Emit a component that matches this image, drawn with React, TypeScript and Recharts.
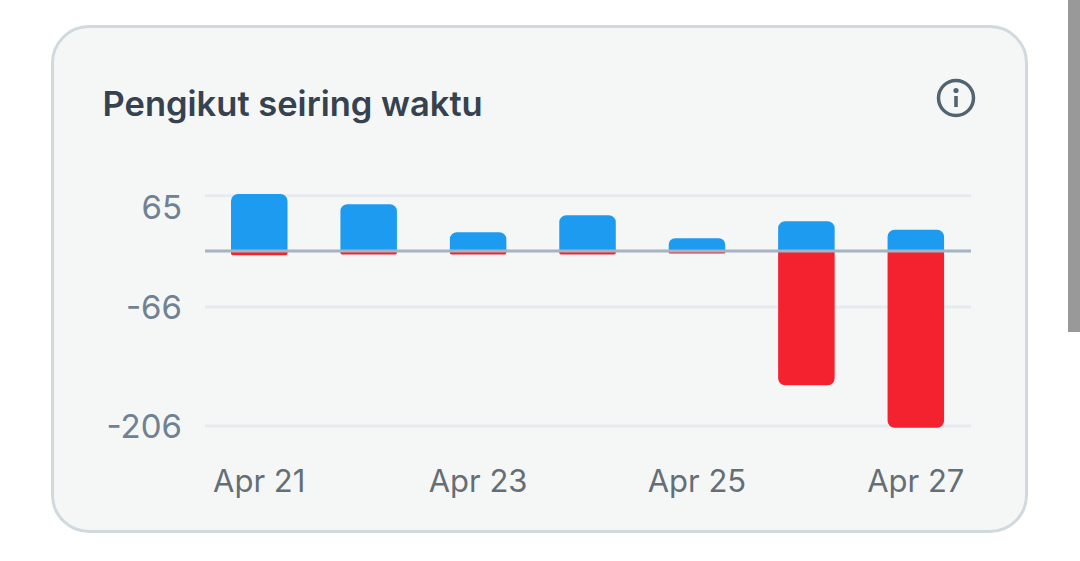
import { BarChart, Bar, XAxis, YAxis, CartesianGrid, ReferenceLine } from 'recharts'

const days = ['Apr 21', 'Apr 22', 'Apr 23', 'Apr 24', 'Apr 25', 'Apr 26', 'Apr 27']
const gained = [67, 55, 22, 42, 15, 35, 25]
const lost = [-5, -4, -4, -4, -3, -158, -208]
const yTicks = [65, -66, -206]

const data = days.map((day, i) => ({ day, gained: gained[i], lost: lost[i] }))

const font = 'Inter, "Noto Sans", sans-serif'

// the top label sits below its gridline, the others are centred on theirs
function YTick({ x, y, payload }: any) {
  const shift = payload.value === yTicks[0] ? 11 : 0
  return (
    <text x={x + 7} y={y + shift} dy={12} textAnchor="end" fontSize={33} fill="#6f8192" fontFamily={font}>
      {payload.value}
    </text>
  )
}

export default function App() {
  return (
    <div style={{ position: 'absolute', left: 0, top: 0, width: 1080, height: 561, background: '#fff', overflow: 'hidden' }}>
      <div
        style={{
          position: 'absolute',
          left: 51,
          top: 25,
          width: 977,
          height: 508,
          boxSizing: 'border-box',
          background: '#f5f7f7',
          border: '3px solid #cfd9de',
          borderRadius: 38,
        }}
      />
      <div
        style={{
          position: 'absolute',
          left: 102.5,
          top: 82.5,
          fontFamily: font,
          fontSize: 34.5,
          lineHeight: '42px',
          fontWeight: 600,
          color: '#36424f',
          whiteSpace: 'nowrap',
        }}
      >
        Pengikut seiring waktu
      </div>
      <svg style={{ position: 'absolute', left: 934, top: 76 }} width={44} height={44} viewBox="0 0 44 44">
        <circle cx={22} cy={22} r={17.5} fill="none" stroke="#536471" strokeWidth={3.5} />
        <circle cx={22} cy={14.5} r={2.6} fill="#536471" />
        <rect x={20.2} y={20} width={3.6} height={11} fill="#536471" />
      </svg>
      <div style={{ position: 'absolute', left: 1068, top: 0, width: 12, height: 332, background: '#999' }} />
      <div style={{ position: 'absolute', left: 0, top: 0 }}>
        <BarChart
          width={1080}
          height={561}
          data={data}
          stackOffset="sign"
          barSize={56.5}
          margin={{ top: 191.5, right: 109, bottom: 71.5, left: 55 }}
        >
          <CartesianGrid horizontal vertical={false} syncWithTicks horizontalValues={yTicks} stroke="#e6ebf0" strokeWidth={3} />
          <XAxis
            dataKey="day"
            interval={1}
            axisLine={false}
            tickLine={false}
            height={60}
            tickMargin={34}
            tick={{ fontSize: 31, fill: '#666e75', fontFamily: font, dx: -0.5 }}
          />
          <YAxis
            width={150}
            type="number"
            domain={[-210, 70]}
            ticks={yTicks}
            interval={0}
            axisLine={false}
            tickLine={false}
            tickMargin={24}
            tick={<YTick />}
          />
          <Bar dataKey="gained" stackId="a" fill="#1d9bf0" radius={[7, 7, 0, 0]} isAnimationActive={false} />
          <Bar dataKey="lost" stackId="a" fill="#f4212e" radius={[7, 7, 0, 0]} isAnimationActive={false} />
          <ReferenceLine y={0} stroke="#a6b4c1" strokeWidth={3} />
        </BarChart>
      </div>
    </div>
  )
}
